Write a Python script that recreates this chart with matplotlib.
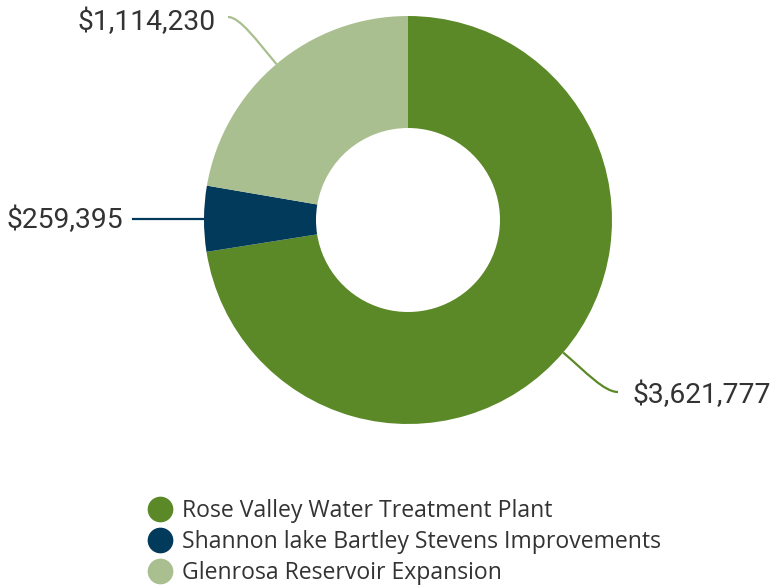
import matplotlib
matplotlib.use("Agg")
import matplotlib.pyplot as plt
from matplotlib.path import Path
from matplotlib.patches import PathPatch
from matplotlib.lines import Line2D
import numpy as np

categories = ["Rose Valley Water Treatment Plant",
              "Shannon lake Bartley Stevens Improvements",
              "Glenrosa Reservoir Expansion"]
values = [3621777, 259395, 1114230]
labels = ["$3,621,777", "$259,395", "$1,114,230"]
colors = ["#5b8928", "#023a5b", "#a9bf8f"]

W, H = 771, 586
fig = plt.figure(figsize=(W / 100, H / 100), dpi=100)
ax = fig.add_axes([0, 0, 1, 1])

cx, cy = 408, H - 220
R, r_in = 204, 92
wedges, _ = ax.pie(values, colors=colors, startangle=90, counterclock=False,
                   radius=R, center=(cx, cy),
                   wedgeprops=dict(width=R - r_in, linewidth=0))
ax.set_xlim(0, W)
ax.set_ylim(0, H)
ax.set_aspect("equal")
ax.axis("off")

txt_color = "#333333"
lab_font = "Roboto"

total = sum(values)
start = 90.0
for i, (v, lab, col) in enumerate(zip(values, labels, colors)):
    sweep = 360.0 * v / total
    mid = np.deg2rad(start - sweep / 2)
    start -= sweep
    x0 = cx + R * np.cos(mid)
    y0 = cy + R * np.sin(mid)
    if i == 0:
        end = (618, H - 392)
        p1 = (x0 + 30 * np.cos(mid), y0 + 30 * np.sin(mid))
        p2 = (end[0] - 14, end[1])
        verts = [(x0, y0), p1, p2, end]
        codes = [Path.MOVETO, Path.CURVE4, Path.CURVE4, Path.CURVE4]
        ax.add_patch(PathPatch(Path(verts, codes), fill=False, edgecolor=col, lw=1.6))
        ax.text(633, end[1] - 3, lab, ha="left", va="center", fontsize=20.3,
                family=lab_font, color=txt_color)
    elif i == 1:
        end = (133, y0)
        ax.plot([x0, end[0]], [y0, end[1]], color=col, lw=1.6)
        ax.text(123, y0 - 2, lab, ha="right", va="center", fontsize=20.3,
                family=lab_font, color=txt_color)
    else:
        end = (228, H - 17)
        p1 = (x0 + 30 * np.cos(mid), y0 + 30 * np.sin(mid))
        p2 = (end[0] + 12, end[1])
        verts = [(x0, y0), p1, p2, end]
        codes = [Path.MOVETO, Path.CURVE4, Path.CURVE4, Path.CURVE4]
        ax.add_patch(PathPatch(Path(verts, codes), fill=False, edgecolor=col, lw=1.6))
        ax.text(216, end[1] - 5, lab, ha="right", va="center", fontsize=20.3,
                family=lab_font, color=txt_color)

handles = [Line2D([], [], marker="o", linestyle="none", markersize=17.5,
                  markerfacecolor=c, markeredgecolor=c) for c in colors]
leg = fig.legend(handles, categories, loc="upper left",
                 bbox_to_anchor=(148 / W, 1 - 499 / H),
                 frameon=False, prop=dict(family="Open Sans", size=16.6),
                 labelspacing=0.30, handletextpad=0.42, handlelength=1.04,
                 borderaxespad=0, borderpad=0, labelcolor=txt_color)

fig.savefig("out.png", dpi=100)
